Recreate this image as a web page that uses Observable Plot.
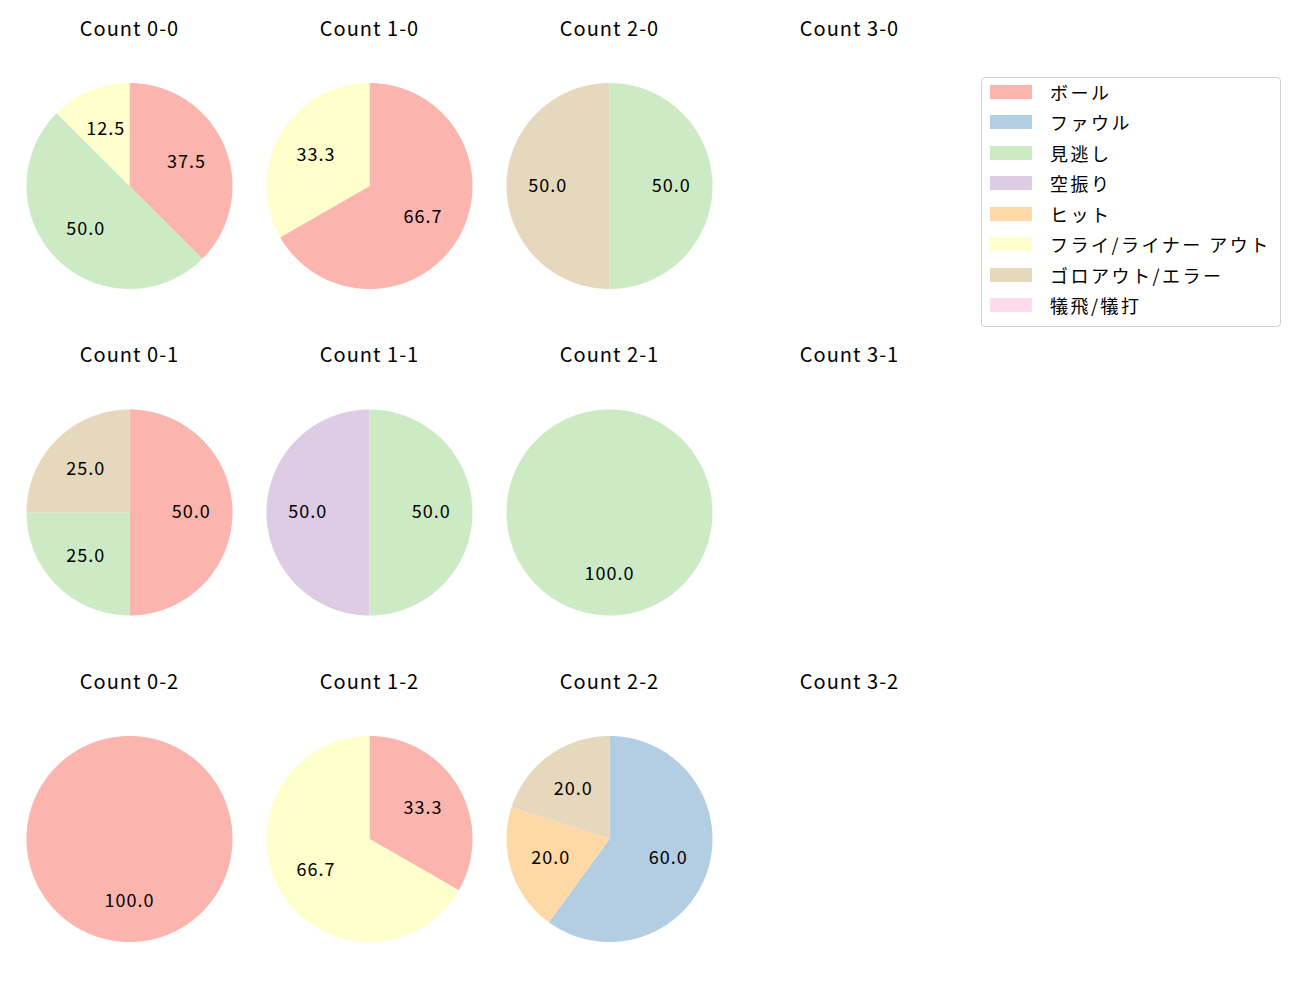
<!DOCTYPE html>
<html>
<head>
<meta charset="utf-8">
<script src="https://cdn.jsdelivr.net/npm/d3@7"></script>
<script src="https://cdn.jsdelivr.net/npm/@observablehq/plot@0.6"></script>
<style>
  html, body { margin: 0; padding: 0; background: #fff; overflow: hidden; }
  #wrap { position: relative; width: 1300px; height: 1000px; }
  #chart { position: absolute; left: 0; top: 0; }
  #chart g[aria-label="text"] text { letter-spacing: 1px; }
  #legend {
    position: absolute; left: 981px; top: 77px; width: 298px; height: 248px;
    border: 1px solid #d0d0d0; border-radius: 4px; background: #fff;
    font-family: "Noto Sans CJK JP", sans-serif; font-size: 18px; color: #000;
    box-sizing: content-box;
  }
  .row { position: absolute; left: 0; height: 30px; display: flex; align-items: center; }
  .sw { width: 42px; height: 14px; margin-left: 8px; }
  .lab { margin-left: 18px; white-space: nowrap; letter-spacing: 2.5px; }
</style>
</head>
<body>
<div id="wrap">
  <div id="chart"></div>
  <div id="legend"></div>
</div>
<script>
// Categories and colours
const categories = ["ボール", "ファウル", "見逃し", "空振り", "ヒット", "フライ/ライナー アウト", "ゴロアウト/エラー", "犠飛/犠打"];
const colors = ["#fbb4ae", "#b3cde3", "#ccebc5", "#decbe4", "#fed9a6", "#ffffcc", "#e5d8bd", "#fddaec"];

// Counts (row-major grid: strikes rows, balls columns)
const counts = ["0-0", "1-0", "2-0", "3-0", "0-1", "1-1", "2-1", "3-1", "0-2", "1-2", "2-2", "3-2"];

// Percentages per category, one value per count
const ball      = [37.5, 66.7, 0, 0, 50, 0, 0, 0, 100, 33.3, 0, 0];
const foul      = [0, 0, 0, 0, 0, 0, 0, 0, 0, 0, 60, 0];
const looking   = [50, 0, 50, 0, 25, 50, 100, 0, 0, 0, 0, 0];
const swinging  = [0, 0, 0, 0, 0, 50, 0, 0, 0, 0, 0, 0];
const hit       = [0, 0, 0, 0, 0, 0, 0, 0, 0, 0, 20, 0];
const flyout    = [12.5, 33.3, 0, 0, 0, 0, 0, 0, 0, 66.7, 0, 0];
const groundout = [0, 0, 50, 0, 25, 0, 0, 0, 0, 0, 20, 0];
const sacrifice = [0, 0, 0, 0, 0, 0, 0, 0, 0, 0, 0, 0];

const series = [ball, foul, looking, swinging, hit, flyout, groundout, sacrifice];

// Build wedge outlines and label positions (clockwise from 12 o'clock)
const wedgePts = [];
const labels = [];
const titles = [];
counts.forEach((c, i) => {
  const col = i % 4, row = Math.floor(i / 4);
  titles.push({ text: "Count " + c, col, row });
  const vals = series.map(s => s[i]);
  const total = d3.sum(vals);
  if (!total) return;
  let a = 0;
  vals.forEach((v, k) => {
    if (!v) return;
    const a0 = a, a1 = a + (v / total) * 2 * Math.PI;
    a = a1;
    const id = c + "|" + k;
    const full = (a1 - a0) >= 2 * Math.PI - 1e-9;
    if (!full) wedgePts.push({ id, cat: categories[k], col, row, x: 0, y: 0 });
    const n = Math.max(2, Math.ceil((a1 - a0) / (Math.PI / 360)));
    for (let j = 0; j <= n; j++) {
      const t = a0 + (a1 - a0) * j / n;
      wedgePts.push({ id, cat: categories[k], col, row, x: Math.sin(t), y: Math.cos(t) });
    }
    const m = (a0 + a1) / 2;
    labels.push({ col, row, x: 0.6 * Math.sin(m), y: 0.6 * Math.cos(m), text: (v / total * 100).toFixed(1) });
  });
});

const R = 103;        // pie radius in px
const cellW = 240, cellH = 326.5, centerFromTop = 175.5;

const chart = Plot.plot({
  width: 969,
  height: 990,
  marginLeft: 9,
  marginRight: 0,
  marginTop: 10,
  marginBottom: 0.5,
  x: { domain: [-(cellW / 2) / R, (cellW / 2) / R], axis: null },
  y: { domain: [-(cellH - centerFromTop) / R, centerFromTop / R], axis: null },
  fx: { domain: [0, 1, 2, 3], padding: 0, round: false, axis: null },
  fy: { domain: [0, 1, 2], padding: 0, round: false, axis: null },
  color: { domain: categories, range: colors },
  style: { fontFamily: "'Noto Sans CJK JP', sans-serif", background: "transparent", overflow: "visible" },
  marks: [
    Plot.line(wedgePts, { x: "x", y: "y", z: "id", fx: "col", fy: "row", fill: "cat", stroke: "none", curve: "linear-closed" }),
    Plot.text(labels, { x: "x", y: "y", fx: "col", fy: "row", text: "text", fontSize: 18, fill: "#000" }),
    Plot.text(titles, { fx: "col", fy: "row", text: "text", frameAnchor: "top", lineAnchor: "middle", dy: 19, fontSize: 20, fill: "#000" })
  ]
});
document.getElementById("chart").appendChild(chart);

// Legend
const legend = document.getElementById("legend");
categories.forEach((cat, k) => {
  const row = document.createElement("div");
  row.className = "row";
  row.style.top = (k * 30.55 - 1.5) + "px";
  const sw = document.createElement("div");
  sw.className = "sw";
  sw.style.background = colors[k];
  const lab = document.createElement("span");
  lab.className = "lab";
  lab.textContent = cat;
  row.appendChild(sw);
  row.appendChild(lab);
  legend.appendChild(row);
});
</script>
</body>
</html>
